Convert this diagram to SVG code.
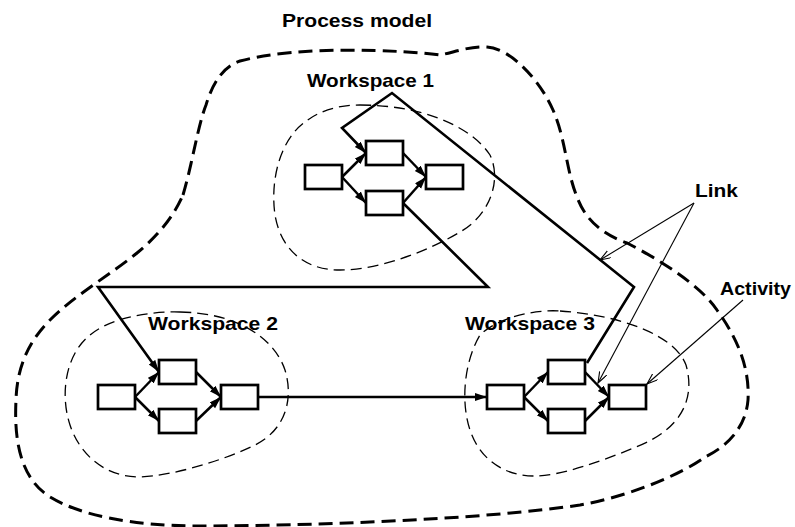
<svg xmlns="http://www.w3.org/2000/svg" width="795" height="527" viewBox="0 0 795 527">
<style>
.lbl{font-family:"Liberation Sans",Arial,sans-serif;font-weight:bold;font-size:19px;fill:#000}
.box{fill:#fff;stroke:#000;stroke-width:2.7}
.arr{fill:none;stroke:#000;stroke-width:2.5;marker-end:url(#ah)}
.link{fill:none;stroke:#000;stroke-width:2.6;stroke-linejoin:miter}
.ws{fill:none;stroke:#000;stroke-width:1.3;stroke-dasharray:11 6}
.outer{fill:none;stroke:#000;stroke-width:3;stroke-dasharray:14 7}
.note{fill:none;stroke:#000;stroke-width:1.1;marker-end:url(#oh)}
</style>
<defs>
<marker id="ah" markerUnits="userSpaceOnUse" markerWidth="13" markerHeight="9" refX="12" refY="4" orient="auto">
<path d="M0,0 L12,4 L0,8 Z" fill="#000"/>
</marker>
<marker id="oh" markerUnits="userSpaceOnUse" markerWidth="12" markerHeight="10" refX="11" refY="4" orient="auto">
<path d="M0,0 L11,4 L0,8" fill="none" stroke="#000" stroke-width="1.1"/>
</marker>
</defs>
<rect width="795" height="527" fill="#fff"/>

<g id="process-model">
<path class="outer" d="M183,195 C192,165 198,125 206,105 C212,85 222,67 240,61 C300,45 400,50 440,55 C455,52 470,46 487,47 C510,48 540,80 553,110 C566,140 566,170 577,197 C586,222 605,235 627,243 C660,260 700,285 717,310 C735,335 750,365 748,400 C746,425 730,445 705,457 C680,475 630,496 580,505 C480,520 300,526 200,526 C130,526 80,515 50,497 C20,478 14,440 16,400 C17,365 30,340 50,320 C75,295 110,275 137,253 C155,238 172,220 183,195 Z"/>
<text class="lbl" x="282" y="27" textLength="150" lengthAdjust="spacingAndGlyphs">Process model</text>
</g>

<g id="workspace1">
<path class="ws" d="M360,105 C420,105 470,125 490,155 C502,180 490,215 460,232 C430,250 380,270 340,270 C300,270 280,245 275,215 C270,180 280,140 305,122 C320,110 340,105 360,105 Z"/>
<text class="lbl" x="307" y="87" textLength="127" lengthAdjust="spacingAndGlyphs">Workspace 1</text>
<rect class="box" x="305" y="165" width="37" height="24"/>
<rect class="box" x="366" y="141" width="37" height="24"/>
<rect class="box" x="366" y="191" width="37" height="24"/>
<rect class="box" x="426" y="165" width="37" height="24"/>
<line class="arr" x1="342" y1="177" x2="366" y2="153"/>
<line class="arr" x1="342" y1="177" x2="366" y2="203"/>
<line class="arr" x1="403" y1="153" x2="426" y2="177"/>
<line class="arr" x1="403" y1="203" x2="426" y2="177"/>
</g>

<g id="workspace2">
<path class="ws" d="M180,312 C240,313 275,340 285,370 C294,400 285,430 255,445 C220,462 170,476 140,477 C105,477 80,455 70,425 C60,395 65,355 90,335 C110,318 150,311 180,312 Z"/>
<text class="lbl" x="148" y="330" textLength="130" lengthAdjust="spacingAndGlyphs">Workspace 2</text>
<rect class="box" x="98" y="385" width="37" height="24"/>
<rect class="box" x="159" y="360" width="37" height="24"/>
<rect class="box" x="159" y="409" width="37" height="24"/>
<rect class="box" x="221" y="385" width="37" height="24"/>
<line class="arr" x1="135" y1="397" x2="159" y2="372"/>
<line class="arr" x1="135" y1="397" x2="159" y2="421"/>
<line class="arr" x1="196" y1="372" x2="221" y2="397"/>
<line class="arr" x1="196" y1="421" x2="221" y2="397"/>
</g>

<g id="workspace3">
<path class="ws" d="M560,311 C620,315 675,335 686,365 C696,400 680,430 636,447 C600,462 560,476 534,476 C505,476 480,460 470,430 C460,400 465,360 480,335 C495,320 530,309 560,311 Z"/>
<text class="lbl" x="465" y="330" textLength="130" lengthAdjust="spacingAndGlyphs">Workspace 3</text>
<rect class="box" x="487" y="385" width="37" height="24"/>
<rect class="box" x="548" y="360" width="37" height="24"/>
<rect class="box" x="548" y="409" width="37" height="24"/>
<rect class="box" x="609" y="385" width="37" height="24"/>
<line class="arr" x1="524" y1="397" x2="548" y2="372"/>
<line class="arr" x1="524" y1="397" x2="548" y2="421"/>
<line class="arr" x1="585" y1="372" x2="609" y2="397"/>
<line class="arr" x1="585" y1="421" x2="609" y2="397"/>
</g>

<g id="connectors">
<polyline class="link" points="587,363 634,287 392,93 342,128 366,153" marker-end="url(#ah)"/>
<polyline class="link" points="403,203 488,287 98,287 159,372" marker-end="url(#ah)"/>
<line class="link" x1="258" y1="397" x2="487" y2="397" marker-end="url(#ah)"/>
</g>

<g id="annotations">
<text class="lbl" x="695" y="197" textLength="43" lengthAdjust="spacingAndGlyphs">Link</text>
<text class="lbl" x="720" y="295" textLength="71" lengthAdjust="spacingAndGlyphs">Activity</text>
<line class="note" x1="694" y1="203" x2="600" y2="260"/>
<line class="note" x1="694" y1="203" x2="598" y2="383"/>
<line class="note" x1="743" y1="300" x2="647" y2="384"/>
</g>
</svg>
